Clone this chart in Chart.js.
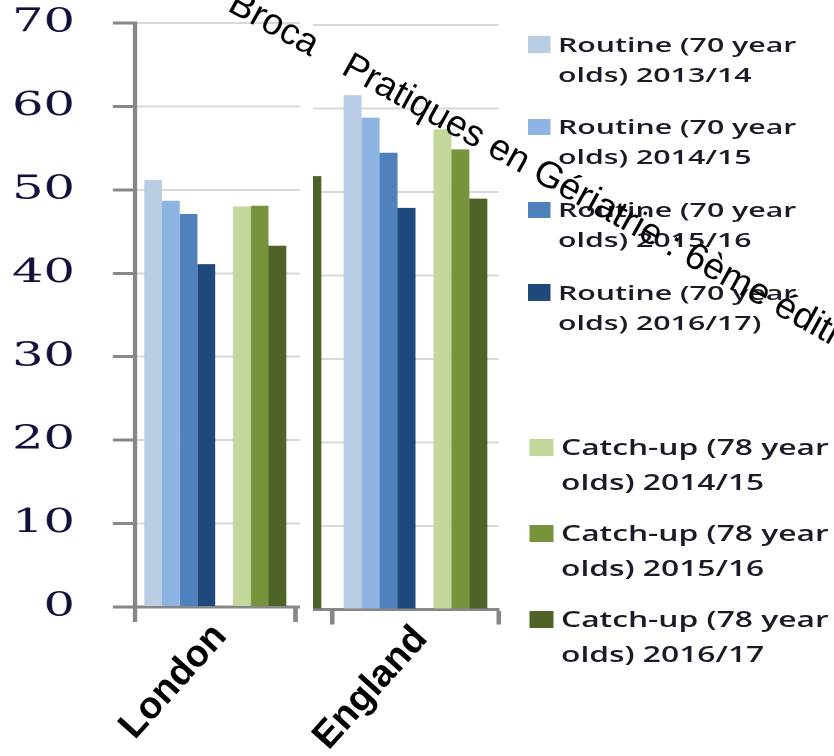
<!DOCTYPE html>
<html>
<head>
<meta charset="utf-8">
<title>Uptake by region</title>
<script src="https://cdn.jsdelivr.net/npm/chart.js@4/dist/chart.umd.min.js"></script>
<style>
  html, body { margin: 0; padding: 0; background: #fff; }
  body { width: 834px; height: 756px; position: relative; overflow: hidden; }
  /* the chart block is drawn narrow and stretched sideways */
  #stage { position: absolute; left: 0; top: 0; width: 556px; height: 756px;
           transform: scaleX(1.5); transform-origin: 0 0; }
  .panel { position: absolute; top: 0; height: 756px; overflow: hidden; }
  .panel canvas { position: absolute; top: 0; }
  .item { position: absolute; color: #1b1b28; font-family: "Open Sans", sans-serif;
          font-weight: 600; white-space: nowrap; }
  .item .sw { position: absolute; }
  #overlay { position: absolute; left: 0; top: 0; pointer-events: none; }
</style>
</head>
<body>
<div id="stage"></div>
<canvas id="overlay" width="834" height="756"></canvas>
<script>
const S = 1.5;
const AXIS = '#878787';

const regions = ['London', 'England'];
const seriesLabels = [
    'Routine (70 year olds) 2013/14',
    'Routine (70 year olds) 2014/15',
    'Routine (70 year olds) 2015/16',
    'Routine (70 year olds) 2016/17)',
    '',
    'Catch-up (78 year olds) 2014/15',
    'Catch-up (78 year olds) 2015/16',
    'Catch-up (78 year olds) 2016/17'
];
const seriesColors = ['#b9cde5', '#8eb4e3', '#4f81bd', '#1f497d', '#ffffff', '#c3d69b', '#77933c', '#4f6228'];

const londonValues    = [51.2, 48.7, 47.1, 41.1, null, 48.0, 48.1, 43.3];
const englandValues   = [61.6, 58.9, 54.7, 48.1, null, 57.5, 55.1, 49.2];
// region just left of England: only its last bar is in view
const neighbourValues = [null, null, null, null, null, null, null, 51.9];

const yMin = 0, yMax = 70, yStep = 10;

var stage = document.getElementById('stage');

// two cut-out panels, sizes in unstretched px
var panels = [
    {
        left: 0, width: 200, canvasLeft: 0, canvasWidth: 304, padRight: 0,
        yAxisWidth: 90, top: 23, bottom: 607, catPct: 0.885, showY: true,
        labels: [regions[0], ''],
        data: i => [londonValues[i], null]
    },
    {
        left: 208.67, width: 125.33, canvasLeft: 111.33, canvasWidth: 225, padRight: 3.67,
        yAxisWidth: 0, top: 25, bottom: 609.5, catPct: 0.865, showY: false,
        labels: ['', regions[1]],
        data: i => [neighbourValues[i], englandValues[i]]
    }
];

function makeChart(p) {
    var wrap = document.createElement('div');
    wrap.className = 'panel';
    wrap.style.left = p.left + 'px';
    wrap.style.width = p.width + 'px';
    var cv = document.createElement('canvas');
    cv.width = p.canvasWidth;
    cv.height = 640;
    cv.style.left = (p.canvasLeft - p.left) + 'px';
    wrap.appendChild(cv);
    stage.appendChild(wrap);

    var chart = new Chart(cv, {
        type: 'bar',
        data: {
            labels: p.labels,
            datasets: seriesLabels.map((label, i) => ({
                label: label,
                data: p.data(i),
                backgroundColor: seriesColors[i],
                borderWidth: 0
            }))
        },
        options: {
            responsive: false,
            animation: false,
            devicePixelRatio: 2,
            events: [],
            layout: { padding: { top: p.top, bottom: 640 - p.bottom - 20, left: 0, right: p.padRight } },
            plugins: { legend: { display: false }, tooltip: { enabled: false } },
            datasets: { bar: { categoryPercentage: p.catPct, barPercentage: 1 } },
            scales: {
                x: {
                    grid: { display: true, offset: true, drawOnChartArea: false, drawTicks: true,
                            tickLength: 15, tickColor: AXIS, tickWidth: 3 },
                    border: { display: true, color: AXIS, width: 3 },
                    ticks: { display: false },
                    afterFit: s => { s.height = 20; }
                },
                y: {
                    min: yMin, max: yMax,
                    ticks: { stepSize: yStep, display: p.showY, padding: 25.3, color: '#10103a',
                             font: { family: 'DejaVu Serif', size: 33 } },
                    grid: { color: '#d9d9d9', lineWidth: 2, drawTicks: p.showY,
                            tickLength: 14.7, tickColor: AXIS, tickWidth: 3 },
                    border: { display: p.showY, color: AXIS, width: 3 },
                    afterFit: s => { s.width = p.yAxisWidth; s.paddingTop = 0; s.paddingBottom = 0; }
                }
            }
        }
    });

    // pin the plot box to the wanted top and bottom
    var ca = chart.chartArea;
    var pad = chart.options.layout.padding;
    if (Math.abs(ca.top - p.top) > 0.5 || Math.abs(ca.bottom - p.bottom) > 0.5) {
        pad.top += p.top - ca.top;
        pad.bottom += ca.bottom - p.bottom;
        chart.update();
    }
    return chart;
}

panels.forEach(p => { p.chart = makeChart(p); });

// legend, one block per series group
var r = 0, c = 0;
seriesLabels.forEach((label, i) => {
    if (!label) return;
    var routine = label.indexOf('Routine') === 0;
    var item = document.createElement('div');
    item.className = 'item';
    var top = routine ? 28.5 + r++ * 82.8 : 429 + c++ * 85.8;
    item.style.top = top + 'px';
    item.style.left = (routine ? 372 : 374) + 'px';
    item.style.fontSize = (routine ? 20.2 : 21.2) + 'px';
    item.style.lineHeight = (routine ? 30 : 35) + 'px';
    var cut = label.indexOf(' olds');
    item.innerHTML = '<div>' + label.slice(0, cut) + '</div><div>' + label.slice(cut + 1) + '</div>';
    var sw = document.createElement('div');
    sw.className = 'sw';
    sw.style.background = seriesColors[i];
    sw.style.left = (routine ? -20 : -21.1) + 'px';
    sw.style.top = (routine ? 7.5 : 10.3) + 'px';
    sw.style.width = (routine ? 15 : 15.6) + 'px';
    sw.style.height = (routine ? 16.5 : 16.7) + 'px';
    item.appendChild(sw);
    stage.appendChild(item);
});

// category names and the diagonal caption, drawn unstretched
function drawOverlay() {
    var ctx = document.getElementById('overlay').getContext('2d');
    ctx.fillStyle = '#000';
    ctx.font = 'bold 38px "Liberation Sans", Arial, sans-serif';
    ctx.textAlign = 'right';
    ctx.textBaseline = 'middle';
    panels.forEach(p => {
        var xs = p.chart.scales.x;
        p.labels.forEach((name, i) => {
            if (!name) return;
            var x = (p.canvasLeft + xs.getPixelForTick(i)) * S + 5;
            var y = xs.top + 23;
            ctx.save();
            ctx.translate(x, y);
            ctx.rotate(-48 * Math.PI / 180);
            ctx.fillText(name, 0, 0);
            ctx.restore();
        });
    });

    ctx.font = '37px "Liberation Sans", Arial, sans-serif';
    ctx.textAlign = 'left';
    ctx.textBaseline = 'alphabetic';
    ctx.save();
    ctx.translate(340, 73);
    ctx.rotate(29 * Math.PI / 180);
    ctx.fillText('Pratiques en Gériatrie : 6ème édition', 0, 0);
    ctx.fillText('Broca', -130, 0);
    ctx.restore();
}
drawOverlay();
</script>
</body>
</html>
